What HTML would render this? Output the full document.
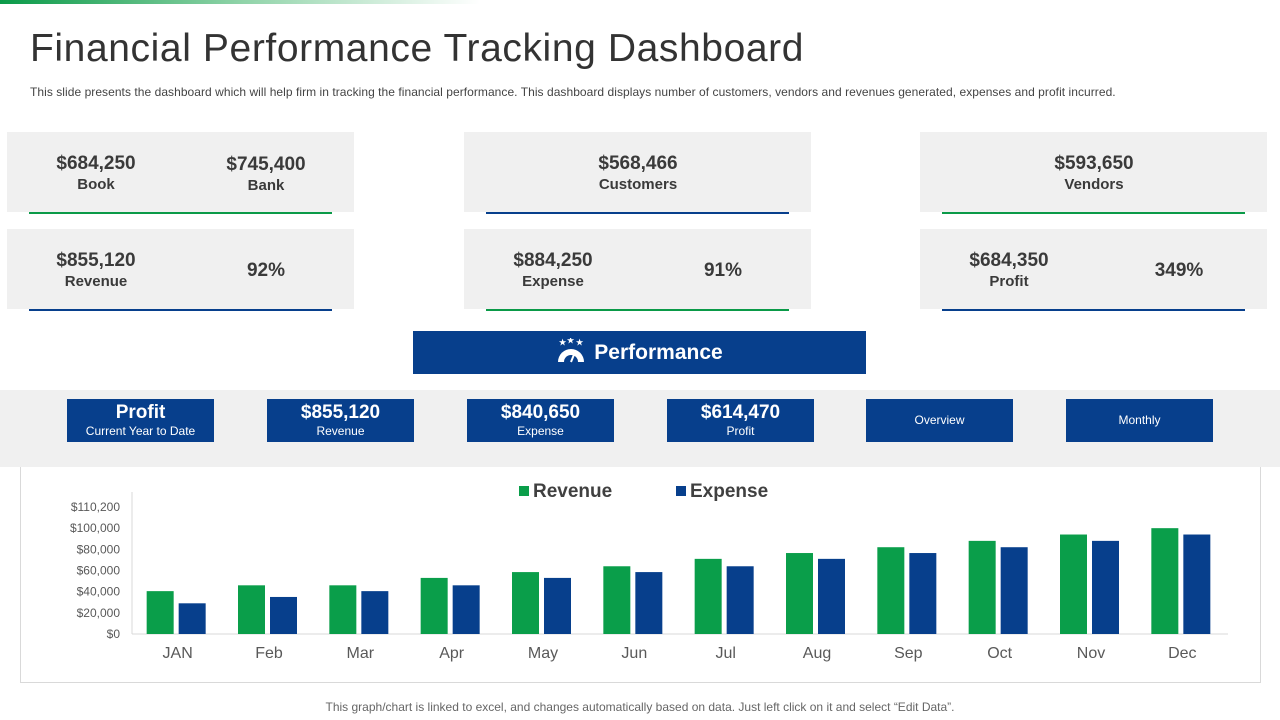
<!DOCTYPE html>
<html><head><meta charset="utf-8"><style>
*{margin:0;padding:0;box-sizing:border-box}
body{width:1280px;height:720px;position:relative;background:#fff;font-family:"Liberation Sans",sans-serif;overflow:hidden;color:#333}
.abs{position:absolute}
.card{position:absolute;background:#f0f0f0;height:80px;width:347px}
.card .line{position:absolute;left:22px;right:22px;bottom:-2px;height:2px}
.val{position:absolute;font-size:19px;font-weight:bold;color:#3a3a3a;text-align:center;width:160px}
.lbl{position:absolute;font-size:15px;font-weight:bold;color:#3a3a3a;text-align:center;width:160px}
.btn{position:absolute;top:399px;width:147px;height:43px;background:#073f8c;color:#fff;text-align:center}
.btn b{display:block;font-size:19px;margin-top:3px}
.btn span{display:block;font-size:12px}
</style></head><body>
<div class="abs" style="left:0;top:0;width:480px;height:4px;background:linear-gradient(90deg,#0a9a48,#8fd3a8,#fff)"></div>
<div class="abs" style="left:30px;top:27px;font-size:39px;letter-spacing:0.6px;color:#333">Financial Performance Tracking Dashboard</div>
<div class="abs" style="left:30px;top:85px;font-size:12px;letter-spacing:0.05px;color:#444;white-space:nowrap">This slide presents the dashboard which will help firm in tracking the financial performance. This dashboard displays number of customers, vendors and revenues generated, expenses and profit incurred.</div>

<div class="card" style="left:7px;top:132px"><div class="val" style="left:9px;top:21px">$684,250</div><div class="lbl" style="left:9px;top:44px">Book</div><div class="val" style="left:179px;top:22px">$745,400</div><div class="lbl" style="left:179px;top:45px">Bank</div><div class="line" style="background:#0a9a48"></div></div>
<div class="card" style="left:464px;top:132px"><div class="val" style="left:94px;top:21px">$568,466</div><div class="lbl" style="left:94px;top:44px">Customers</div><div class="line" style="background:#073f8c"></div></div>
<div class="card" style="left:920px;top:132px"><div class="val" style="left:94px;top:21px">$593,650</div><div class="lbl" style="left:94px;top:44px">Vendors</div><div class="line" style="background:#0a9a48"></div></div>
<div class="card" style="left:7px;top:229px"><div class="val" style="left:9px;top:21px">$855,120</div><div class="lbl" style="left:9px;top:44px">Revenue</div><div class="val" style="left:179px;top:31px">92%</div><div class="line" style="background:#073f8c"></div></div>
<div class="card" style="left:464px;top:229px"><div class="val" style="left:9px;top:21px">$884,250</div><div class="lbl" style="left:9px;top:44px">Expense</div><div class="val" style="left:179px;top:31px">91%</div><div class="line" style="background:#0a9a48"></div></div>
<div class="card" style="left:920px;top:229px"><div class="val" style="left:9px;top:21px">$684,350</div><div class="lbl" style="left:9px;top:44px">Profit</div><div class="val" style="left:179px;top:31px">349%</div><div class="line" style="background:#073f8c"></div></div>

<div class="abs" style="left:413px;top:331px;width:453px;height:43px;background:#073f8c;color:#fff;font-size:21px;font-weight:bold;text-align:center;line-height:43px">
<svg width="30" height="26" viewBox="0 0 30 26" style="vertical-align:-5px;margin-right:8px"><path d="M2 24 A13 13 0 0 1 28 24 Z" fill="#fff"/><path d="M8 24 A7 7 0 0 1 22 24Z" fill="#073f8c"/><line x1="15" y1="24" x2="19" y2="14" stroke="#fff" stroke-width="2"/><text x="3" y="7" fill="#fff" font-size="8">★</text><text x="11" y="5" fill="#fff" font-size="8">★</text><text x="20" y="7" fill="#fff" font-size="8">★</text></svg>Performance</div>

<div class="abs" style="left:0;top:390px;width:1280px;height:77px;background:#f0f0f0"></div>
<div class="btn" style="left:67px"><b>Profit</b><span>Current Year to Date</span></div>
<div class="btn" style="left:267px"><b>$855,120</b><span>Revenue</span></div>
<div class="btn" style="left:467px"><b>$840,650</b><span>Expense</span></div>
<div class="btn" style="left:667px"><b>$614,470</b><span>Profit</span></div>
<div class="btn" style="left:866px;line-height:43px;font-size:12px">Overview</div>
<div class="btn" style="left:1066px;line-height:43px;font-size:12px">Monthly</div>

<div class="abs" style="left:20px;top:467px;width:1241px;height:216px;border:1px solid #d9d9d9;border-top:none"></div>
<svg id="chart" class="abs" style="left:0;top:0" width="1280" height="720"></svg>
<div class="abs" style="left:0;width:1280px;top:700px;text-align:center;font-size:12px;color:#666">This graph/chart is linked to excel,  and changes automatically based on data. Just left click on it and select “Edit Data”.</div>

<script>
const months=["JAN","Feb","Mar","Apr","May","Jun","Jul","Aug","Sep","Oct","Nov","Dec"];
const revenue=[40500,46000,46000,53000,58500,64000,71000,76500,82000,88000,94000,100000];
const expense=[29000,35000,40500,46000,53000,58500,64000,71000,76500,82000,88000,94000];
const tickValues=[0,20000,40000,60000,80000,100000,120000];
const tickLabels=["$0","$20,000","$40,000","$60,000","$80,000","$100,000","$110,200"];
const NS="http://www.w3.org/2000/svg",svg=document.getElementById('chart');
const x0=132,x1=1228,yBase=634,yMax=120000,yTop=507;
const y=v=>yBase-(v/yMax)*(yBase-yTop);
const bw=(x1-x0)/months.length;
function mk(t,a){const e=document.createElementNS(NS,t);for(const k in a)e.setAttribute(k,a[k]);svg.appendChild(e);return e;}
let ax=mk('line',{x1:x0,x2:x0,y1:492,y2:yBase,stroke:'#d9d9d9'});


let bx=mk('line',{x1:x0,x2:x1,y1:yBase,y2:yBase,stroke:'#d9d9d9'});


tickValues.forEach((v,i)=>{const t=mk('text',{x:120,y:y(v)+4,'text-anchor':'end','font-size':12,fill:'#595959'});t.textContent=tickLabels[i];

});
months.forEach((m,i)=>{const cx=x0+bw*(i+0.5);
const r=mk('rect',{x:cx-31,y:y(revenue[i]),width:27,height:yBase-y(revenue[i]),fill:'#0a9e4a'});


const e=mk('rect',{x:cx+1,y:y(expense[i]),width:27,height:yBase-y(expense[i]),fill:'#073f8c'});


const t=mk('text',{x:cx,y:658,'text-anchor':'middle','font-size':16,fill:'#595959'});t.textContent=m;

});
[[519,'#0a9e4a','Revenue'],[676,'#073f8c','Expense']].forEach(([lx,c,n])=>{
const s=mk('rect',{x:lx,y:486,width:10,height:10,fill:c});


const t=mk('text',{x:lx+14,y:497,'font-size':19,'font-weight':'bold',fill:'#404040'});t.textContent=n;

});
</script>
</body></html>
